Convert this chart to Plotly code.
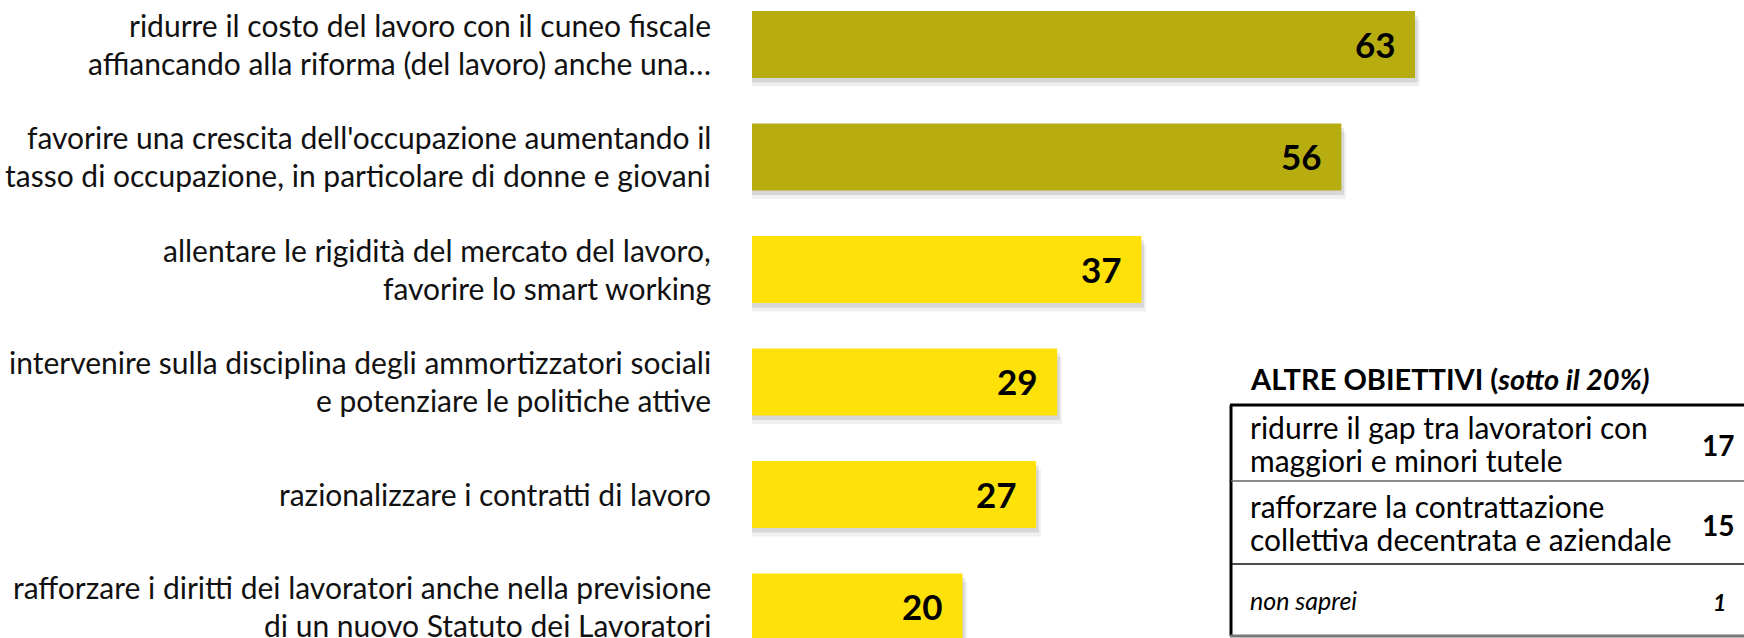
import plotly.graph_objects as go

# ---------------- data ----------------
categories = [
    "ridurre il costo del lavoro con il cuneo fiscale<br>affiancando alla riforma (del lavoro) anche una…",
    "favorire una crescita dell'occupazione aumentando il<br>tasso di occupazione, in particolare di donne e giovani",
    "allentare le rigidità del mercato del lavoro,<br>favorire lo smart working",
    "intervenire sulla disciplina degli ammortizzatori sociali<br>e potenziare le politiche attive",
    "razionalizzare i contratti di lavoro",
    "rafforzare i diritti dei lavoratori anche nella previsione<br>di un nuovo Statuto dei Lavoratori",
]
values = [63, 56, 37, 29, 27, 20]
bar_groups = ["top", "top", "other", "other", "other", "other"]

table_title = "<b>ALTRE OBIETTIVI (<i>sotto il 20%)</i></b>"
other_labels = [
    "ridurre il gap tra lavoratori con<br>maggiori e minori tutele",
    "rafforzare la contrattazione<br>collettiva decentrata e aziendale",
    "<i>non saprei</i>",
]
other_values = [17, 15, 1]

# ---------------- style ----------------
W, H = 1744, 638
FONT = "Lato"
OLIVE = "#B7AD10"
YELLOW = "#FFE10A"
colors = [OLIVE if g == "top" else YELLOW for g in bar_groups]

BAR_LEFT_PX = 752
PX_PER_UNIT = 10.524
PITCH = 112.5
FIRST_CENTER = 44.5
BAR_W = 0.596

x_max = (W - BAR_LEFT_PX) / PX_PER_UNIT
y_top = -FIRST_CENTER / PITCH
y_bottom = y_top + H / PITCH

fig = go.Figure()

# soft shadow layers
for dy, dx, alpha in [(0.075, 0.45, 0.06), (0.040, 0.25, 0.10)]:
    fig.add_trace(go.Bar(
        x=[v + dx for v in values], y=categories, orientation="h",
        width=BAR_W, offset=-BAR_W / 2 + dy,
        marker=dict(color=f"rgba(0,0,0,{alpha})", line=dict(width=0)),
        hoverinfo="skip", showlegend=False,
    ))

fig.add_trace(go.Bar(
    x=values, y=categories, orientation="h",
    width=BAR_W, offset=-BAR_W / 2,
    marker=dict(color=colors, line=dict(width=0)),
    showlegend=False,
))

annotations = []
# category labels, one annotation per line
for cat in categories:
    lines = cat.split("<br>")
    n = len(lines)
    for i, ln in enumerate(lines):
        annotations.append(dict(
            x=0, y=cat, xref="x", yref="y", text=ln, showarrow=False,
            xanchor="right", yanchor="middle", xshift=-39,
            yshift=-(i - (n - 1) / 2) * 38 + 1,
            font=dict(family=FONT, size=30, color="#111111"),
        ))
# value labels
for cat, v in zip(categories, values):
    annotations.append(dict(
        x=v, y=cat, xref="x", yref="y", text=f"<b>{v}</b>", showarrow=False,
        xanchor="right", yanchor="middle", xshift=-17, yshift=1,
        font=dict(family=FONT, size=35, color="#000000"),
    ))


def px(xp):
    return xp / W


def py(yp):
    return 1 - yp / H


# table
TBL_L = 1231
row_edges = [405, 481, 564, 636]
TXT_L = 1248
VAL_R = 1736

annotations.append(dict(
    x=px(TXT_L), y=py(378), xref="paper", yref="paper", text=table_title,
    showarrow=False, xanchor="left", yanchor="middle",
    font=dict(family=FONT, size=29, color="#000000"),
))

for r, (lab, val) in enumerate(zip(other_labels, other_values)):
    yc = (row_edges[r] + row_edges[r + 1]) / 2
    lines = lab.split("<br>")
    n = len(lines)
    italic = lab.startswith("<i>")
    for i, ln in enumerate(lines):
        annotations.append(dict(
            x=px(TXT_L), y=py(yc + (i - (n - 1) / 2) * 33), xref="paper", yref="paper",
            text=ln, showarrow=False, xanchor="left", yanchor="middle",
            font=dict(family=FONT, size=25 if italic else 30, color="#000000"),
        ))
    vtxt = f"<b><i>{val}</i></b>" if italic else f"<b>{val}</b>"
    annotations.append(dict(
        x=px(VAL_R - (8 if italic else 0)), y=py(yc + 2), xref="paper", yref="paper", text=vtxt,
        showarrow=False, xanchor="right", yanchor="middle",
        font=dict(family=FONT, size=23 if italic else 28, color="#000000"),
    ))

shapes = [
    dict(type="line", xref="paper", yref="paper", x0=px(TBL_L - 1), x1=1.0,
         y0=py(row_edges[0]), y1=py(row_edges[0]), line=dict(color="#000000", width=3)),
    dict(type="line", xref="paper", yref="paper", x0=px(TBL_L), x1=px(TBL_L),
         y0=py(row_edges[0]), y1=py(row_edges[-1]), line=dict(color="#000000", width=3)),
    dict(type="line", xref="paper", yref="paper", x0=px(TBL_L), x1=1.0,
         y0=py(row_edges[1]), y1=py(row_edges[1]), line=dict(color="#666666", width=1.5)),
    dict(type="line", xref="paper", yref="paper", x0=px(TBL_L), x1=1.0,
         y0=py(row_edges[2]), y1=py(row_edges[2]), line=dict(color="#111111", width=1.5)),
    dict(type="line", xref="paper", yref="paper", x0=px(TBL_L - 1), x1=1.0,
         y0=py(row_edges[3]), y1=py(row_edges[3]), line=dict(color="#777777", width=3)),
]

fig.update_layout(
    width=W, height=H,
    margin=dict(l=0, r=0, t=0, b=0, pad=0),
    paper_bgcolor="white", plot_bgcolor="white",
    barmode="overlay",
    showlegend=False,
    xaxis=dict(domain=[BAR_LEFT_PX / W, 1], range=[0, x_max], visible=False, fixedrange=True),
    yaxis=dict(range=[y_bottom, y_top], visible=False, fixedrange=True,
               categoryorder="array", categoryarray=categories),
    annotations=annotations,
    shapes=shapes,
    font=dict(family=FONT),
)

fig.write_html("out.html", post_script="document.body.style.margin='0';",
               config={"displayModeBar": False})
